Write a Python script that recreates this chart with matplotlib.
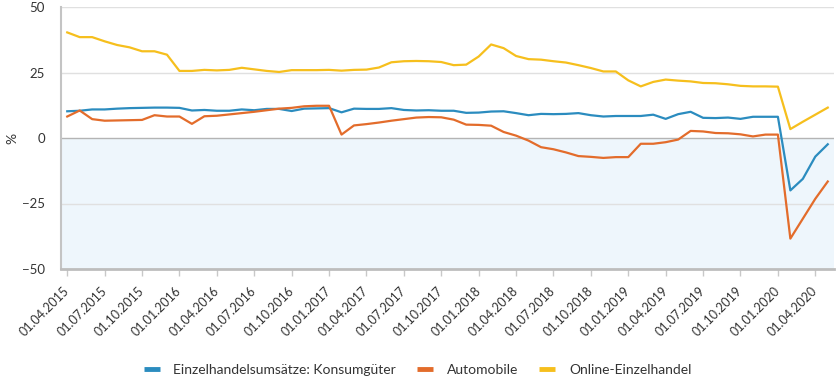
import numpy as np
import matplotlib.pyplot as plt
from matplotlib.lines import Line2D

# monthly year-on-year change in %, 01.04.2015 .. 01.05.2020
consumer = [10.2, 10.4, 10.9, 10.9, 11.2, 11.4, 11.5, 11.6, 11.6, 11.5, 10.5,
            10.7, 10.4, 10.4, 10.9, 10.6, 11.1, 11.1, 10.3, 11.2, 11.3,
            11.4, 9.8, 11.2, 11.1, 11.1, 11.4, 10.7, 10.5, 10.6, 10.4,
            10.4, 9.6, 9.7, 10.1, 10.2, 9.5, 8.7, 9.2, 9.1, 9.2,
            9.5, 8.7, 8.2, 8.4, 8.4, 8.4, 8.9, 7.3, 9.1, 10.0,
            7.7, 7.6, 7.8, 7.3, 8.1, 8.1, 8.1, -20.0, -15.6, -7.1, -2.4]
auto = [8.2, 10.5, 7.2, 6.6, 6.7, 6.8, 6.9, 8.7, 8.2, 8.2, 5.4,
        8.3, 8.5, 9.0, 9.5, 10.0, 10.6, 11.2, 11.5, 12.1, 12.3,
        12.3, 1.3, 4.8, 5.3, 5.9, 6.6, 7.2, 7.8, 8.0, 7.9,
        7.0, 5.1, 5.0, 4.7, 2.3, 0.9, -1.0, -3.5, -4.3, -5.5,
        -6.9, -7.2, -7.6, -7.3, -7.3, -2.2, -2.2, -1.6, -0.6, 2.7,
        2.5, 1.9, 1.8, 1.4, 0.6, 1.3, 1.3, -38.4, -30.8, -23.2, -16.6]
online = [40.3, 38.5, 38.5, 36.9, 35.5, 34.6, 33.1, 33.1, 31.8, 25.6, 25.6,
          26.0, 25.8, 26.0, 26.8, 26.2, 25.6, 25.2, 25.9, 25.9, 25.9,
          26.0, 25.7, 26.0, 26.1, 26.9, 28.9, 29.3, 29.4, 29.3, 29.0,
          27.8, 28.0, 31.1, 35.7, 34.3, 31.3, 30.1, 29.9, 29.3, 28.8,
          27.8, 26.7, 25.4, 25.4, 22.0, 19.7, 21.4, 22.3, 21.9, 21.6,
          21.0, 20.9, 20.5, 19.9, 19.7, 19.7, 19.6, 3.4, 6.2, 8.9, 11.6]

tick_labels = ['01.04.2015', '01.07.2015', '01.10.2015', '01.01.2016',
               '01.04.2016', '01.07.2016', '01.10.2016', '01.01.2017',
               '01.04.2017', '01.07.2017', '01.10.2017', '01.01.2018',
               '01.04.2018', '01.07.2018', '01.10.2018', '01.01.2019',
               '01.04.2019', '01.07.2019', '01.10.2019', '01.01.2020',
               '01.04.2020']
series_names = ['Einzelhandelsumsätze: Konsumgüter', 'Automobile', 'Online-Einzelhandel']
colors = ['#2b8cbf', '#e36c2b', '#f6bf1d']

plt.rcParams['font.family'] = ['Lato', 'DejaVu Sans']
text_col = '#333333'

fig = plt.figure(figsize=(8.39, 3.83), dpi=100)
ax = fig.add_axes([61 / 839, 1 - 269 / 383, 773 / 839, 262 / 383])

x = np.arange(len(consumer))
ax.set_xlim(-0.5, len(consumer) - 0.5)
ax.set_ylim(-50, 50)

# light blue area below zero and horizontal grid
ax.axhspan(-50, 0, color='#eef6fc', zorder=0, lw=0)
for yv in [25, 50, -25]:
    ax.axhline(yv, color='#e0e0e0', lw=1, zorder=1)
ax.axhline(0, color='#b4b4b4', lw=1, zorder=1)

for vals, col in zip([consumer, auto, online], colors):
    ax.plot(x, vals, color=col, lw=1.6, zorder=3)

for side in ['top', 'right']:
    ax.spines[side].set_visible(False)
ax.spines['left'].set_color('#c4c4c4')
ax.spines['left'].set_linewidth(1.5)
ax.spines['bottom'].set_color('#bdbdbd')
ax.spines['bottom'].set_linewidth(2)

ax.set_yticks([-50, -25, 0, 25, 50])
ax.tick_params(axis='y', length=0, pad=11.5, labelsize=9.5, labelcolor=text_col)
ax.set_xticks(x[::3])
ax.set_xticklabels(tick_labels, rotation=45, ha='right', va='center',
                   rotation_mode='anchor')
ax.tick_params(axis='x', length=5, width=1, color='#c8c8c8', pad=9,
               labelsize=9, labelcolor=text_col)

ax.set_ylabel('%', fontsize=10, color=text_col)
ax.yaxis.set_label_coords((18 - 61) / 773, 0.5)

handles = [Line2D([], [], color=c, lw=3.5, solid_capstyle='butt') for c in colors]
fig.legend(handles, series_names, loc='center', bbox_to_anchor=(0.4976, 0.034),
           ncol=3, frameon=False, fontsize=10, handlelength=1.15,
           handletextpad=1.0, columnspacing=1.5, labelcolor=text_col)

fig.savefig('out.png', dpi=100)
